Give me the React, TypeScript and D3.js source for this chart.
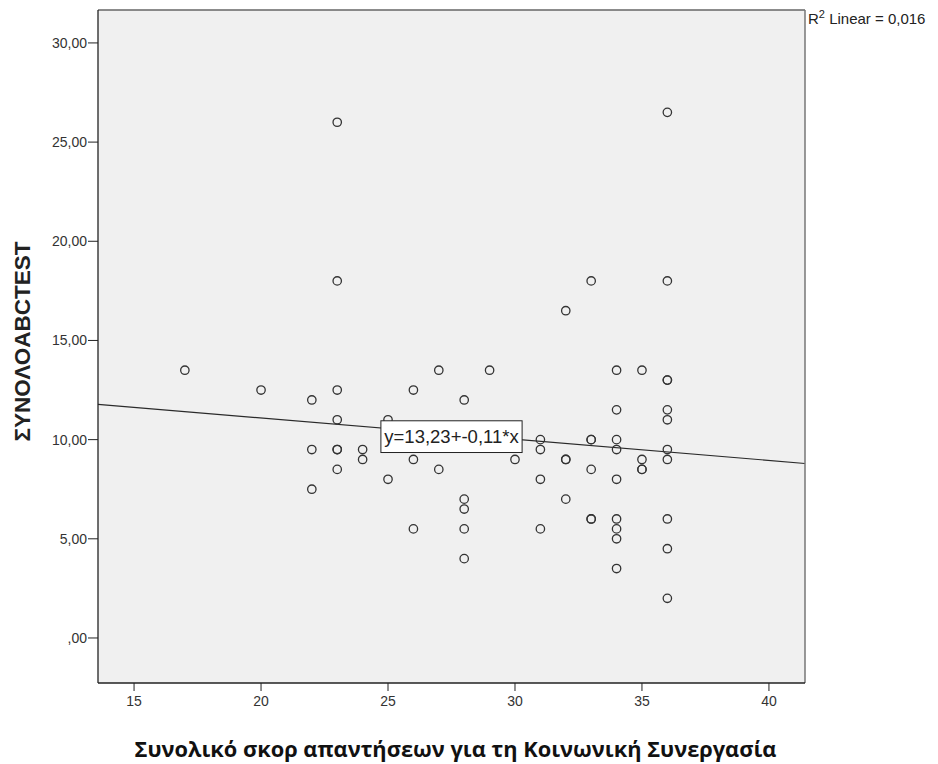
import React, { useEffect, useRef } from "react";
import * as d3 from "d3";

// Data
const scoreX = [
  17,
  20,
  22, 22, 22,
  23, 23, 23, 23, 23, 23, 23,
  24, 24,
  25, 25,
  26, 26, 26,
  27, 27,
  28, 28, 28, 28, 28,
  29,
  30,
  31, 31, 31, 31,
  32, 32, 32, 32,
  33, 33, 33, 33, 33, 33,
  34, 34, 34, 34, 34, 34, 34, 34, 34,
  35, 35, 35, 35,
  36, 36, 36, 36, 36, 36, 36, 36, 36, 36, 36,
];
const abcTest = [
  13.5,
  12.5,
  12.0, 9.5, 7.5,
  26.0, 18.0, 12.5, 11.0, 9.5, 9.5, 8.5,
  9.5, 9.0,
  11.0, 8.0,
  12.5, 9.0, 5.5,
  13.5, 8.5,
  12.0, 7.0, 6.5, 5.5, 4.0,
  13.5,
  9.0,
  10.0, 9.5, 8.0, 5.5,
  16.5, 9.0, 9.0, 7.0,
  18.0, 10.0, 10.0, 8.5, 6.0, 6.0,
  13.5, 11.5, 10.0, 9.5, 8.0, 6.0, 5.5, 5.0, 3.5,
  13.5, 9.0, 8.5, 8.5,
  26.5, 18.0, 13.0, 13.0, 11.5, 11.0, 9.5, 9.0, 6.0, 4.5, 2.0,
];
const xTicks = [15, 20, 25, 30, 35, 40];
const yTicks = [0, 5, 10, 15, 20, 25, 30];
const xDomain = [13.58, 41.42];
const yDomain = [-2.27, 31.66];
const fitIntercept = 13.23;
const fitSlope = -0.107;
const fitLabel = "y=13,23+-0,11*x";
const r2Value = "0,016";
const xTitle = "Συνολικό σκορ απαντήσεων για τη Κοινωνική Συνεργασία";
const yTitle = "ΣΥΝΟΛΟABCTEST";

const W = 938;
const H = 764;
const plot = { left: 98, right: 805, top: 10, bottom: 683 };

const fmtY = (v: number) => {
  const s = v.toFixed(2).replace(".", ",");
  return s.startsWith("0,") ? s.slice(1) : s;
};

export default function App() {
  const xTitleRef = useRef<SVGTextElement>(null);
  const yTitleRef = useRef<SVGTextElement>(null);

  const x = d3.scaleLinear().domain(xDomain).range([plot.left, plot.right]);
  const y = d3.scaleLinear().domain(yDomain).range([plot.bottom, plot.top]);

  useEffect(() => {
    const fit = (el: SVGTextElement | null, target: number) => {
      if (!el) return;
      const base = 20;
      el.setAttribute("font-size", String(base));
      const w = el.getComputedTextLength();
      if (w > 0) el.setAttribute("font-size", String((base * target) / w));
    };
    fit(xTitleRef.current, 642);
    fit(yTitleRef.current, 200);
  }, []);

  const line = d3
    .line<number>()
    .x((d) => x(d))
    .y((d) => y(fitIntercept + fitSlope * d));

  const boxX0 = x(24.72);
  const boxX1 = x(30.28);
  const boxY0 = y(10.95);
  const boxY1 = y(9.35);

  const font = "'Liberation Sans', Arial, sans-serif";

  return (
    <svg
      width={W}
      height={H}
      style={{ position: "absolute", left: 0, top: 0, background: "#fff" }}
    >
      <rect
        x={plot.left}
        y={plot.top}
        width={plot.right - plot.left}
        height={plot.bottom - plot.top}
        fill="#f0f0f0"
      />
      {/* regression line */}
      <path d={line(xDomain) || ""} stroke="#2a2a2a" strokeWidth={1.1} fill="none" />
      {/* points */}
      <g>
        {scoreX.map((sx, i) => (
          <circle
            key={i}
            cx={x(sx)}
            cy={y(abcTest[i])}
            r={4.2}
            fill="none"
            stroke="#333"
            strokeWidth={1.3}
          />
        ))}
      </g>
      {/* fit label */}
      <rect
        x={boxX0}
        y={boxY0}
        width={boxX1 - boxX0}
        height={boxY1 - boxY0}
        fill="#fff"
        stroke="#222"
        strokeWidth={1}
      />
      <text
        x={(boxX0 + boxX1) / 2}
        y={(boxY0 + boxY1) / 2 + 6.5}
        textAnchor="middle"
        fontFamily={font}
        fontSize={18.5}
        fill="#222"
      >
        {fitLabel}
      </text>
      {/* frame */}
      <line x1={plot.left} x2={plot.right} y1={plot.top} y2={plot.top} stroke="#666" strokeWidth={1.5} />
      <line x1={plot.right} x2={plot.right} y1={plot.top} y2={plot.bottom} stroke="#777" strokeWidth={1.5} />
      <line x1={plot.left} x2={plot.left} y1={plot.top} y2={plot.bottom} stroke="#222" strokeWidth={1.3} />
      <line x1={plot.left} x2={plot.right} y1={plot.bottom} y2={plot.bottom} stroke="#222" strokeWidth={1.3} />
      {/* y ticks */}
      {yTicks.map((t) => (
        <g key={t}>
          <line x1={plot.left - 10} x2={plot.left} y1={y(t)} y2={y(t)} stroke="#222" strokeWidth={1} />
          <text
            x={plot.left - 11}
            y={y(t) + 5}
            textAnchor="end"
            fontFamily={font}
            fontSize={14}
            fill="#333"
          >
            {fmtY(t)}
          </text>
        </g>
      ))}
      {/* x ticks */}
      {xTicks.map((t) => (
        <g key={t}>
          <line x1={x(t)} x2={x(t)} y1={plot.bottom} y2={plot.bottom + 8} stroke="#222" strokeWidth={1} />
          <text
            x={x(t)}
            y={plot.bottom + 23}
            textAnchor="middle"
            fontFamily={font}
            fontSize={14}
            fill="#333"
          >
            {t}
          </text>
        </g>
      ))}
      {/* R2 label */}
      <text x={plot.right + 3} y={24} fontFamily={font} fontSize={15} fill="#222">
        R
        <tspan dy={-6} fontSize={11}>2</tspan>
        <tspan dy={6}>{` Linear = ${r2Value}`}</tspan>
      </text>
      {/* axis titles */}
      <text
        ref={yTitleRef}
        transform={`translate(30, ${(plot.top + plot.bottom) / 2 - 5}) rotate(-90)`}
        textAnchor="middle"
        fontFamily={font}
        fontWeight="bold"
        fontSize={20}
        fill="#222"
      >
        {yTitle}
      </text>
      <text
        ref={xTitleRef}
        x={(plot.left + plot.right) / 2 + 4}
        y={757}
        textAnchor="middle"
        fontFamily="'Open Sans', 'Noto Sans', sans-serif"
        fontWeight="bold"
        fontSize={20}
        fill="#111"
      >
        {xTitle}
      </text>
    </svg>
  );
}
